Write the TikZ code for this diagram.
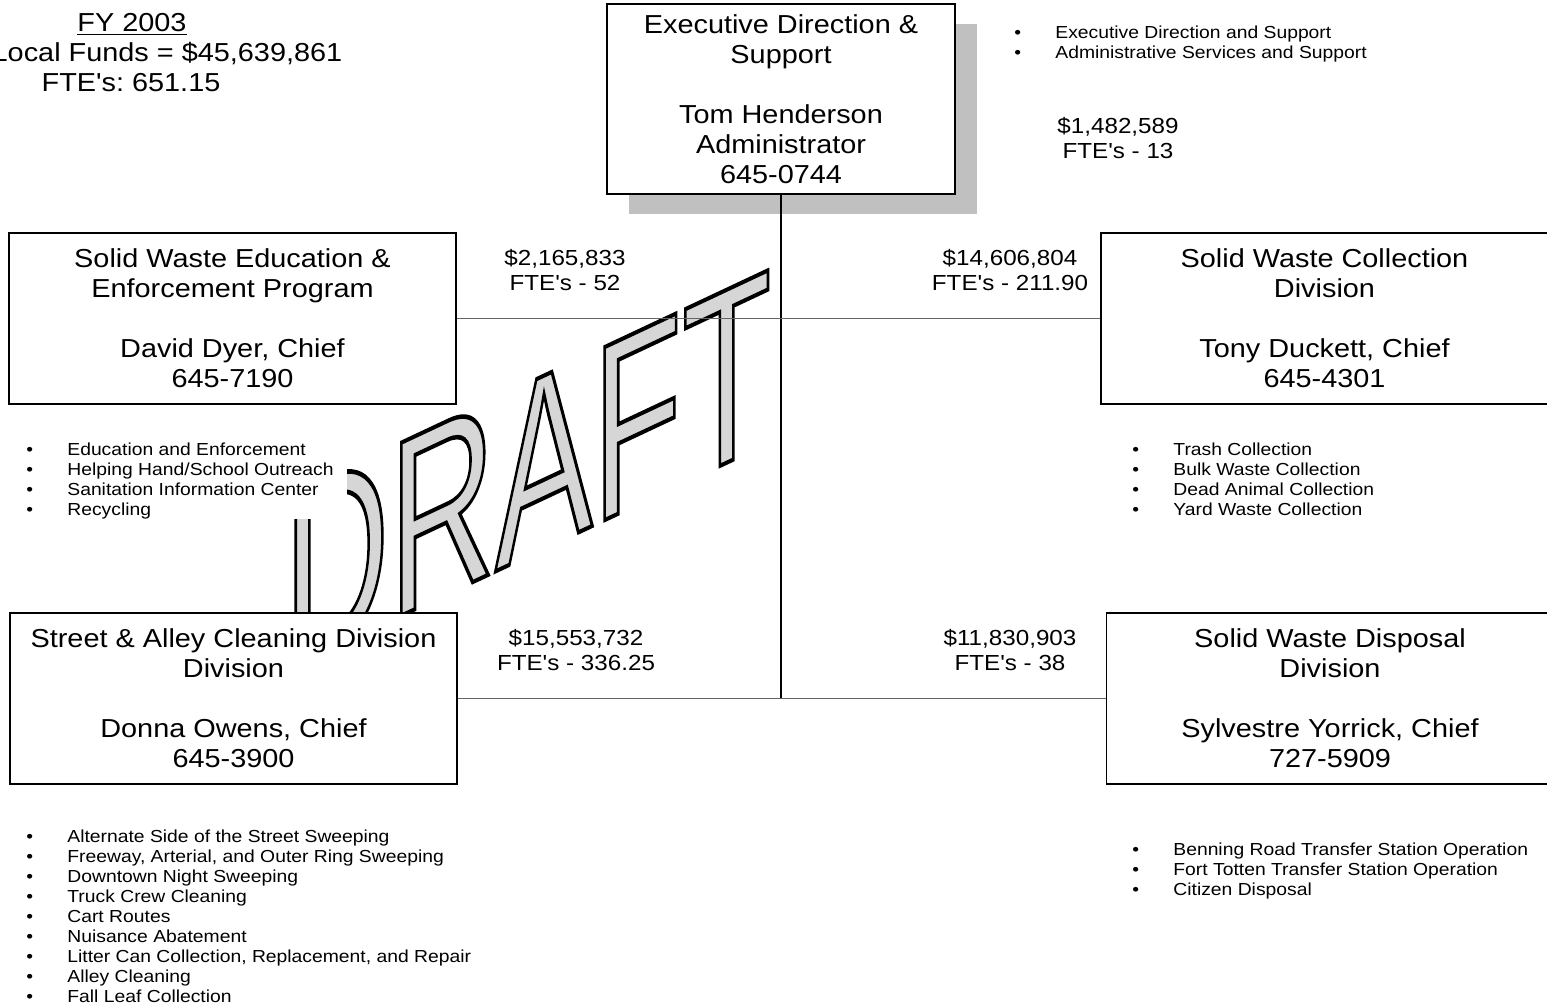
\documentclass[tikz,border=0pt]{standalone}
\usepackage{fontspec}
\usetikzlibrary{backgrounds}
\newfontfamily\arialf{Liberation Sans}[FakeStretch=1.11]
\newfontfamily\wmfont{Liberation Sans}
\newcommand\bxfont{\arialf\frenchspacing\fontsize{13pt}{15pt}\selectfont}
\newcommand\budfont{\arialf\frenchspacing\fontsize{10.9pt}{12.5pt}\selectfont}
\newcommand\lstfont{\arialf\frenchspacing\fontsize{8.7pt}{10pt}\selectfont}
\newcommand\wmfnt{\wmfont\fontsize{125.7pt}{130pt}\selectfont}
\newcommand\blt[1]{\makebox[20.5pt][l]{\textbullet}#1}
\newcommand\outlined[1]{\special{pdf:literal direct 0 0 0 RG 2.2 w 2 Tr}#1\special{pdf:literal direct 0 Tr}}
\definecolor{shadowgray}{RGB}{192,192,192}
\definecolor{wmgray}{RGB}{214,214,214}
\definecolor{linegray}{RGB}{100,100,100}
\begin{document}
\begin{tikzpicture}[x=0.5pt,y=-0.5pt,
  unitbox/.style={draw, line width=0.8pt, fill=white, inner sep=0pt, align=center,
    font=\bxfont, minimum width=223.5pt, minimum height=85.5pt},
  budget/.style={inner sep=0pt, align=center, font=\budfont, anchor=north},
  lst/.style={inner sep=0pt, align=left, font=\lstfont, anchor=north west},
  hdr/.style={inner sep=0pt, font=\bxfont, anchor=base},
  wm/.style={font=\wmfnt, inner sep=0pt, anchor=base west, transform shape},
  vline/.style={line width=0.9pt, black},
  hline/.style={line width=0.6pt, linegray}]
\useasboundingbox (0,0) rectangle (1547,1007);

\begin{pgfonlayer}{background}
% DRAFT watermark: grey glyphs stroked in black
\begin{scope}[shift={(283.5,671)}, yslant=0.47, xscale=0.582]
  \node[wm, text=wmgray] (draft) at (0,0) {\outlined{DRAFT}};
\end{scope}
% shadow of the executive box
\coordinate (shnw) at (629,24);
\coordinate (shse) at (977,214);
\fill[shadowgray] (shnw) rectangle (shse);
% white ground of the first bullet list, hiding part of the watermark
\coordinate (wnw) at (20,436);
\coordinate (wse) at (347,519);
\fill[white] (wnw) rectangle (wse);
\end{pgfonlayer}

% top-left header
\node[hdr] (fy) at (132,31.3) {\underline{FY 2003}};
\node[hdr] (funds) at (167,61.3) {Local Funds = \$45,639,861};
\node[hdr] (fte) at (131,91.3) {FTE's: 651.15};

% boxes
\node[unitbox, minimum width=174pt, minimum height=95pt] (exec) at (781,99)
  {Executive Direction \&\\Support\\[15pt]Tom Henderson\\Administrator\\645-0744};
\node[unitbox] (edu) at (232.5,318.5)
  {Solid Waste Education \&\\Enforcement Program\\[15pt]David Dyer, Chief\\645-7190};
\node[unitbox] (coll) at (1324.5,318.5)
  {Solid Waste Collection\\Division\\[15pt]Tony Duckett, Chief\\645-4301};
\node[unitbox] (street) at (233.5,698.5)
  {Street \& Alley Cleaning Division\\Division\\[15pt]Donna Owens, Chief\\645-3900};
\node[unitbox] (disp) at (1330,698.5)
  {Solid Waste Disposal\\Division\\[15pt]Sylvestre Yorrick, Chief\\727-5909};

% connectors, behind the boxes but above the watermark and shadow
\begin{pgfonlayer}{background}
\draw[vline] (exec.south) -- (exec.south |- street.east) coordinate (jn);
\draw[hline] (edu.east) -- (coll.west);
\draw[hline] (street.east) -- (disp.west);
\end{pgfonlayer}

% budget labels
\node[budget] (b0) at (1118,117) {\$1,482,589\\FTE's - 13};
\node[budget] (b1) at (565,249) {\$2,165,833\\FTE's - 52};
\node[budget] (b2) at (1010,249) {\$14,606,804\\FTE's - 211.90};
\node[budget] (b3) at (576,629) {\$15,553,732\\FTE's - 336.25};
\node[budget] (b4) at (1010,629) {\$11,830,903\\FTE's - 38};

% bullet lists
\node[lst] (execlist) at (1014,25.5) {\blt{Executive Direction and Support}\\
  \blt{Administrative Services and Support}};

\node[lst] (edulist) at (26,442.5) {\blt{Education and Enforcement}\\
  \blt{Helping Hand/School Outreach}\\
  \blt{Sanitation Information Center}\\
  \blt{Recycling}};

\node[lst] (colllist) at (1132,442.5) {\blt{Trash Collection}\\
  \blt{Bulk Waste Collection}\\
  \blt{Dead Animal Collection}\\
  \blt{Yard Waste Collection}};

\node[lst] (streetlist) at (26,829.5) {\blt{Alternate Side of the Street Sweeping}\\
  \blt{Freeway, Arterial, and Outer Ring Sweeping}\\
  \blt{Downtown Night Sweeping}\\
  \blt{Truck Crew Cleaning}\\
  \blt{Cart Routes}\\
  \blt{Nuisance Abatement}\\
  \blt{Litter Can Collection, Replacement, and Repair}\\
  \blt{Alley Cleaning}\\
  \blt{Fall Leaf Collection}};

\node[lst] (displist) at (1132,842.5) {\blt{Benning Road Transfer Station Operation}\\
  \blt{Fort Totten Transfer Station Operation}\\
  \blt{Citizen Disposal}};
\end{tikzpicture}
\end{document}
